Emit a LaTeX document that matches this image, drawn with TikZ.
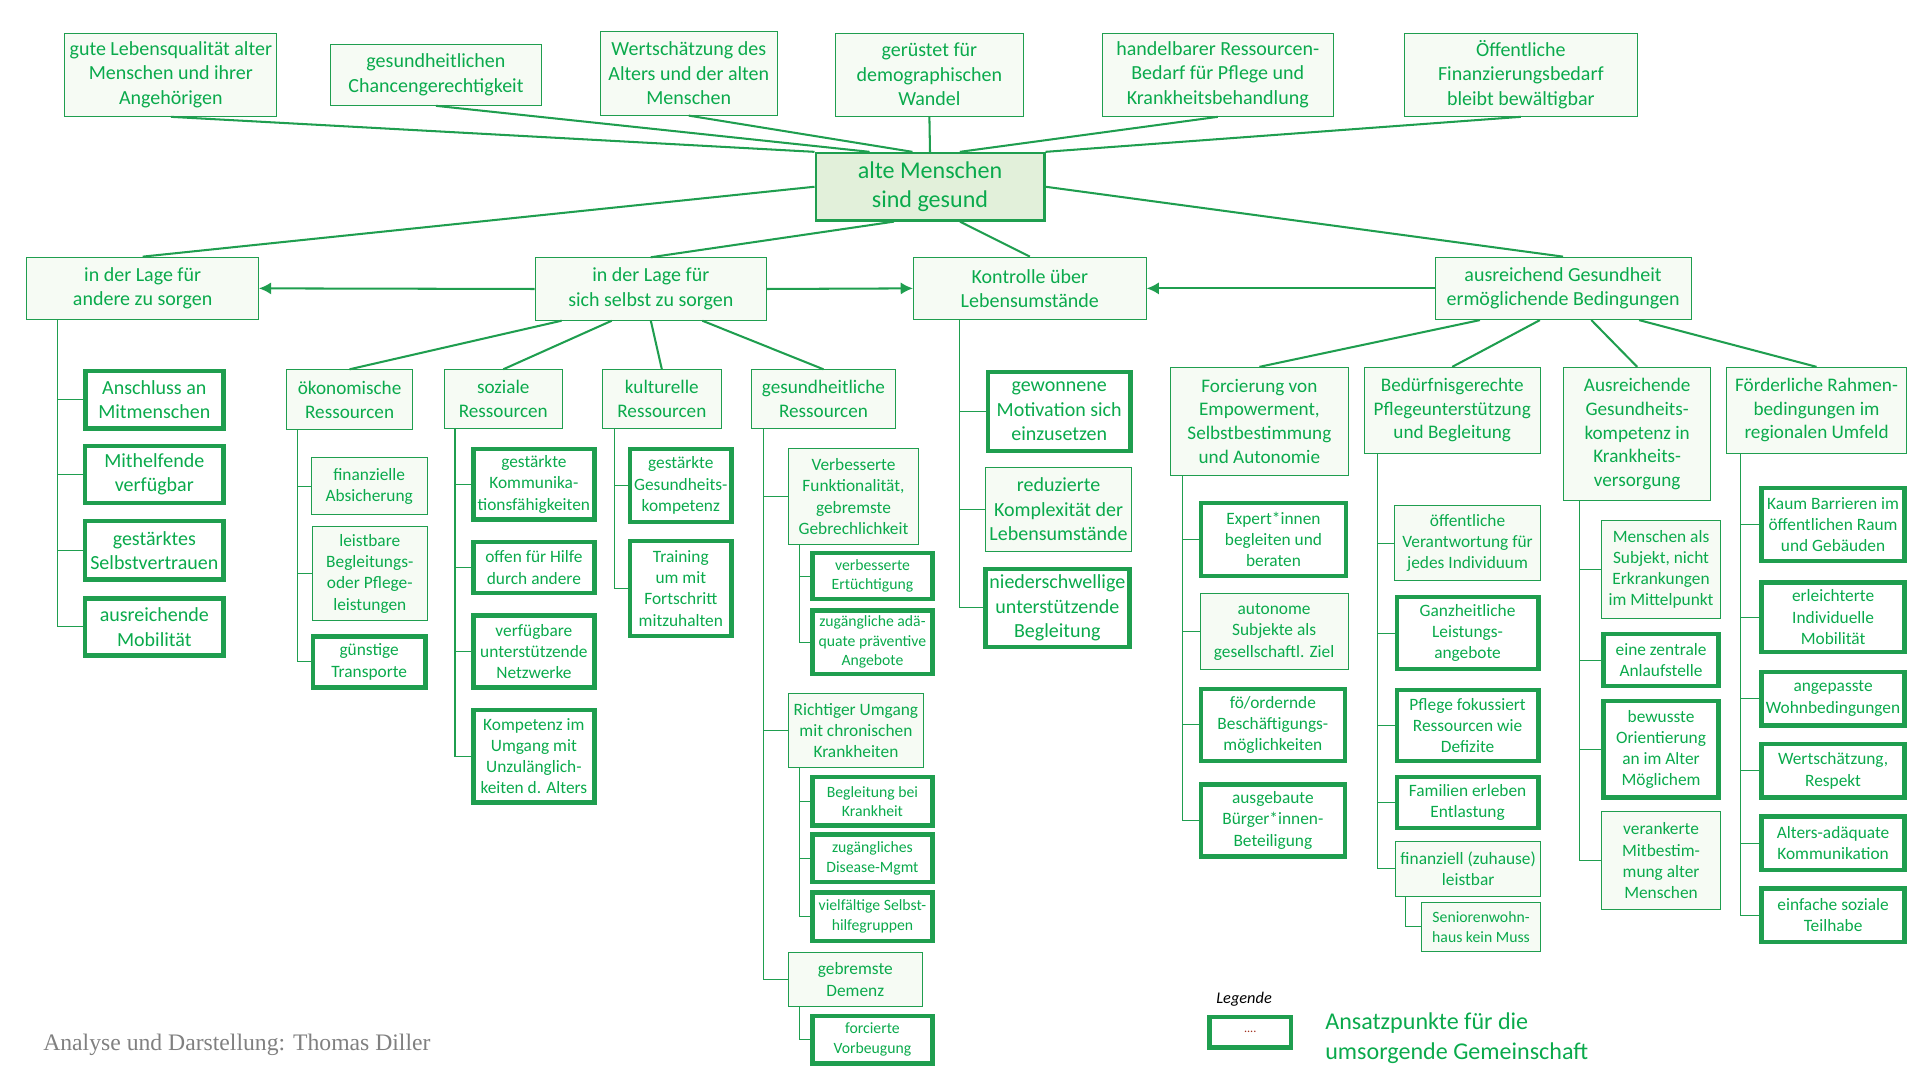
\documentclass[tikz,border=0pt]{standalone}
\usepackage{fontspec}
\setmainfont{Carlito}
\newfontfamily\footfont{Liberation Serif}
\usepackage{tikz}
\usetikzlibrary{arrows.meta,positioning}

\definecolor{boxgreen}{HTML}{1F9E4F}
\definecolor{txtgreen}{HTML}{0AAA4C}
\definecolor{palegreen}{HTML}{F6FBF4}
\definecolor{rootgreen}{HTML}{E2F0DA}
\definecolor{dotred}{HTML}{A0301E}

\tikzset{
  box/.style={draw=boxgreen, fill=palegreen, text=txtgreen, align=center, inner sep=0.5pt, line width=0.5pt},
  key/.style={box, fill=white, line width=2.2pt},
  link/.style={draw=boxgreen, line width=1pt},
  twig/.style={draw=boxgreen, line width=0.5pt},
  arr/.style={link, -{Latex[length=6pt,width=6pt]}},
  rootf/.style={font=\fontsize{11.8}{14.4}\selectfont},
  lg/.style={font=\fontsize{9.8}{12}\selectfont},
  md/.style={font=\fontsize{9.4}{11.6}\selectfont},
  sm/.style={font=\fontsize{8.5}{10.4}\selectfont},
  xs/.style={font=\fontsize{7.7}{9.5}\selectfont}
}

\begin{document}
\begin{tikzpicture}[x=0.6pt, y=-0.6pt]
    \useasboundingbox (0,0) rectangle (1568,882);

    % Ziele
    \node[box, lg, minimum width=103.8pt, minimum height=40.8pt] (t1) at (139.5,61) {gute Lebensqualität alter\\Menschen und ihrer\\Angehörigen};
    \node[box, lg, minimum width=103.2pt, minimum height=30pt] (t2) at (356,61) {gesundheitlichen\\Chancengerechtigkeit};
    \node[box, lg, minimum width=87pt, minimum height=40.8pt] (t3) at (562.5,60) {Wertschätzung des\\Alters und der alten\\Menschen};
    \node[box, lg, minimum width=92.4pt, minimum height=40.8pt] (t4) at (759,61) {gerüstet für\\demographischen\\Wandel};
    \node[box, lg, minimum width=113.4pt, minimum height=40.8pt] (t5) at (994.5,61) {handelbarer Ressourcen-\\Bedarf für Pflege und\\Krankheitsbehandlung};
    \node[box, lg, minimum width=114pt, minimum height=40.8pt] (t6) at (1242,61) {Öffentliche\\Finanzierungsbedarf\\bleibt bewältigbar};

    % Mitte
    \node[box, rootf, fill=rootgreen, line width=1.2pt, minimum width=112pt, minimum height=33pt] (root) at (759.5,152.5) {alte Menschen\\sind gesund};

    \draw[link] (t1.south) -- (root.north west);
    \draw[link] (t2.south) -- ([xshift=27pt]root.north west);
    \draw[link] (t3.south) -- ([xshift=48pt]root.north west);
    \draw[link] (t4.south) -- (root.north);
    \draw[link] (t5.south) -- ([xshift=-42pt]root.north east);
    \draw[link] (t6.south) -- (root.north east);

    % zweite Ebene
    \node[box, lg, minimum width=113.4pt, minimum height=30.6pt] (l1) at (116.5,235.5) {in der Lage für\\andere zu sorgen};
    \node[box, lg, minimum width=113.4pt, minimum height=30.6pt] (l2) at (531.5,236) {in der Lage für\\sich selbst zu sorgen};
    \node[box, lg, minimum width=114pt, minimum height=30.6pt] (l3) at (841,235.5) {Kontrolle über\\Lebensumstände};
    \node[box, lg, minimum width=125.4pt, minimum height=30.6pt] (l4) at (1276.5,235.5) {ausreichend Gesundheit\\ermöglichende Bedingungen};

    \draw[link] (root.west) -- (l1.north);
    \draw[link] ([xshift=-17.7pt]root.south) -- (l2.north);
    \draw[link] ([xshift=14.7pt]root.south) -- (l3.north);
    \draw[link] (root.east) -- (l4.north);

    \draw[arr] (l2.west) -- (l1.east);
    \draw[arr] (l2.east) -- (l3.west);
    \draw[arr] (l4.west) -- (l3.east);

    % fuer andere sorgen
    \node[key, lg, minimum width=67.6pt, minimum height=28pt] (a1) at (126,326.5) {Anschluss an\\Mitmenschen};
    \node[key, lg, minimum width=68pt, minimum height=28pt] (a2) at (126,387.5) {Mithelfende\\verfügbar};
    \node[key, lg, minimum width=68pt, minimum height=28.6pt] (a3) at (126,449.5) {gestärktes\\Selbstvertrauen};
    \node[key, lg, minimum width=68pt, minimum height=28pt] (a4) at (126,512) {ausreichende\\Mobilität};
    \foreach \c in {a1,a2,a3,a4}
        \draw[twig] (l1.south west) ++(25,0) |- (\c.west);

    % fuer sich selbst sorgen
    \node[box, md, minimum width=61.8pt, minimum height=29.4pt] (b1) at (285.5,326.5) {ökonomische\\Ressourcen};
    \node[box, md, minimum width=57.6pt, minimum height=28.8pt] (b2) at (411,326) {soziale\\Ressourcen};
    \node[box, md, minimum width=58.2pt, minimum height=28.8pt] (b3) at (540.5,326) {kulturelle\\Ressourcen};
    \node[box, md, minimum width=70.2pt, minimum height=28.8pt] (b4) at (672.5,326) {gesundheitliche\\Ressourcen};

    \draw[link] ([xshift=13.2pt]l2.south west) -- (b1.north);
    \draw[link] ([xshift=37.8pt]l2.south west) -- (b2.north);
    \draw[link] (l2.south) -- (b3.north);
    \draw[link] ([xshift=82.2pt]l2.south west) -- (b4.north);

    \node[box, sm, minimum width=57pt, minimum height=27.6pt] (b1a) at (301.5,397) {finanzielle\\Absicherung};
    \node[box, sm, minimum width=56.4pt, minimum height=46.2pt] (b1b) at (302,468.5) {leistbare\\Begleitungs-\\oder Pflege-\\leistungen};
    \node[key, sm, minimum width=55pt, minimum height=25pt] (b1c) at (301.5,540.5) {günstige\\Transporte};
    \foreach \c in {b1a,b1b,b1c}
        \draw[twig] (b1.south west) ++(9,0) |- (\c.west);

    \node[key, sm, minimum width=59.2pt, minimum height=34.6pt] (b2a) at (436,395.5) {gestärkte\\Kommunika-\\tionsfähigkeiten};
    \node[key, sm, minimum width=59.2pt, minimum height=25pt] (b2b) at (436,463.5) {offen für Hilfe\\durch andere};
    \node[key, sm, minimum width=59.2pt, minimum height=35.2pt] (b2c) at (436,532) {verfügbare\\unterstützende\\Netzwerke};
    \node[key, sm, minimum width=59.2pt, minimum height=45.4pt] (b2d) at (436,617.5) {Kompetenz im\\Umgang mit\\Unzulänglich-\\keiten d. Alters};
    \foreach \c in {b2a,b2b,b2c,b2d}
        \draw[twig] (b2.south west) ++(9,0) |- (\c.west);

    \node[key, sm, minimum width=49.6pt, minimum height=35.8pt] (b3a) at (556,396.5) {gestärkte\\Gesundheits-\\kompetenz};
    \node[key, sm, minimum width=49.6pt, minimum height=46.6pt] (b3b) at (556,480.5) {Training\\um mit\\Fortschritt\\mitzuhalten};
    \foreach \c in {b3a,b3b}
        \draw[twig] (b3.south west) ++(10,0) |- (\c.west);

    \node[box, sm, minimum width=63.6pt, minimum height=47.4pt] (c1) at (697,405.5) {Verbesserte\\Funktionalität,\\gebremste\\Gebrechlichkeit};
    \node[box, sm, minimum width=66pt, minimum height=36.6pt] (c2) at (699,596.5) {Richtiger Umgang\\mit chronischen\\Krankheiten};
    \node[box, sm, minimum width=65.4pt, minimum height=26.4pt] (c3) at (698.5,800) {gebremste\\Demenz};
    \foreach \c in {c1,c2,c3}
        \draw[twig] (b4.south west) ++(10,0) |- (\c.west);

    \node[key, xs, minimum width=58.6pt, minimum height=22.6pt] (c1a) at (712.5,470.5) {verbesserte\\Ertüchtigung};
    \node[key, xs, minimum width=58.6pt, minimum height=31pt] (c1b) at (712.5,524.5) {zugängliche adä-\\quate präventive\\Angebote};
    \foreach \c in {c1a,c1b}
        \draw[twig] (c1.south west) ++(9,0) |- (\c.west);

    \node[key, xs, minimum width=58.6pt, minimum height=23.8pt] (c2a) at (712.5,654.5) {Begleitung bei\\Krankheit};
    \node[key, xs, minimum width=58.6pt, minimum height=23.2pt] (c2b) at (712.5,701) {zugängliches\\Disease-Mgmt};
    \node[key, xs, minimum width=58.6pt, minimum height=23.8pt] (c2c) at (712.5,748.5) {vielfältige Selbst-\\hilfegruppen};
    \foreach \c in {c2a,c2b,c2c}
        \draw[twig] (c2.south west) ++(9,0) |- (\c.west);

    \node[key, xs, minimum width=58.6pt, minimum height=23.2pt] (c3a) at (712.5,849) {forcierte\\Vorbeugung};
    \draw[twig] (c3.south west) ++(9,0) |- (c3a.west);

    % Kontrolle
    \node[key, lg, minimum width=70pt, minimum height=38.8pt] (d1) at (865,336) {gewonnene\\Motivation sich\\einzusetzen};
    \node[box, lg, minimum width=71.4pt, minimum height=40.8pt] (d2) at (864.5,416) {reduzierte\\Komplexität der\\Lebensumstände};
    \node[key, lg, minimum width=70.6pt, minimum height=38.2pt] (d3) at (863.5,496.5) {niederschwellige\\unterstützende\\Begleitung};
    \foreach \c in {d1,d2,d3}
        \draw[twig] (l3.south west) ++(38,0) |- (\c.west);

    % Bedingungen
    \node[box, md, minimum width=87pt, minimum height=52.8pt] (e1) at (1028.5,344) {Forcierung von\\Empowerment,\\Selbstbestimmung\\und Autonomie};
    \node[box, md, minimum width=86.4pt, minimum height=42pt] (e2) at (1186,335) {Bedürfnisgerechte\\Pflegeunterstützung\\und Begleitung};
    \node[box, md, minimum width=72pt, minimum height=65.4pt] (e3) at (1337,354.5) {Ausreichende\\Gesundheits-\\kompetenz in\\Krankheits-\\versorgung};
    \node[box, md, minimum width=88.2pt, minimum height=42pt] (e4) at (1483.5,335) {Förderliche Rahmen-\\bedingungen im\\regionalen Umfeld};

    \draw[link] ([xshift=22.2pt]l4.south west) -- (e1.north);
    \draw[link] ([xshift=51.6pt]l4.south west) -- (e2.north);
    \draw[link] ([xshift=76.8pt]l4.south west) -- (e3.north);
    \draw[link] ([xshift=100.2pt]l4.south west) -- (e4.north);

    \node[key, sm, minimum width=71.2pt, minimum height=35.8pt] (e1a) at (1040,440.5) {Expert*innen\\begleiten und\\beraten};
    \node[box, sm, minimum width=72.6pt, minimum height=37.2pt] (e1b) at (1040.5,516) {autonome\\Subjekte als\\gesellschaftl. Ziel};
    \node[key, sm, minimum width=70.6pt, minimum height=35.2pt] (e1c) at (1039.5,592) {fö/ordernde\\Beschäftigungs-\\möglichkeiten};
    \node[key, sm, minimum width=70.6pt, minimum height=35.2pt] (e1d) at (1039.5,670) {ausgebaute\\Bürger*innen-\\Beteiligung};
    \foreach \c in {e1a,e1b,e1c,e1d}
        \draw[twig] (e1.south west) ++(10,0) |- (\c.west);

    \node[box, sm, minimum width=71.4pt, minimum height=36.6pt] (e2a) at (1198.5,443.5) {öffentliche\\Verantwortung für\\jedes Individuum};
    \node[key, sm, minimum width=69.4pt, minimum height=35.2pt] (e2b) at (1198.5,517) {Ganzheitliche\\Leistungs-\\angebote};
    \node[key, sm, minimum width=69.4pt, minimum height=34.6pt] (e2c) at (1198.5,592.5) {Pflege fokussiert\\Ressourcen wie\\Defizite};
    \node[key, sm, minimum width=69.4pt, minimum height=25pt] (e2d) at (1198.5,655.5) {Familien erleben\\Entlastung};
    \node[box, sm, minimum width=70.8pt, minimum height=27pt] (e2e) at (1199,709.5) {finanziell (zuhause)\\leistbar};
    \foreach \c in {e2a,e2b,e2c,e2d,e2e}
        \draw[twig] (e2.south west) ++(11,0) |- (\c.west);
    \node[box, xs, minimum width=58.2pt, minimum height=24pt] (e2f) at (1209.5,757) {Seniorenwohn-\\haus kein Muss};
    \draw[twig] (e2e.south west) ++(8,0) |- (e2f.west);

    \node[box, sm, minimum width=58.2pt, minimum height=48pt] (e3a) at (1356.5,465) {Menschen als\\Subjekt, nicht\\Erkrankungen\\im Mittelpunkt};
    \node[key, sm, minimum width=56.2pt, minimum height=25.6pt] (e3b) at (1356.5,539) {eine zentrale\\Anlaufstelle};
    \node[key, sm, minimum width=56.2pt, minimum height=47.2pt] (e3c) at (1356.5,612) {bewusste\\Orientierung\\an im Alter\\Möglichem};
    \node[box, sm, minimum width=58.2pt, minimum height=48pt] (e3d) at (1356.5,703) {verankerte\\Mitbestim-\\mung alter\\Menschen};
    \foreach \c in {e3a,e3b,e3c,e3d}
        \draw[twig] (e3.south west) ++(13,0) |- (\c.west);

    \node[key, sm, minimum width=70pt, minimum height=35.8pt] (e4a) at (1497,428.5) {Kaum Barrieren im\\öffentlichen Raum\\und Gebäuden};
    \node[key, sm, minimum width=70pt, minimum height=34pt] (e4b) at (1497,504) {erleichterte\\Individuelle\\Mobilität};
    \node[key, sm, minimum width=70pt, minimum height=26.2pt] (e4c) at (1497,570.5) {angepasste\\Wohnbedingungen};
    \node[key, sm, minimum width=70pt, minimum height=26.2pt] (e4d) at (1497,629.5) {Wertschätzung,\\Respekt};
    \node[key, sm, minimum width=70pt, minimum height=26.2pt] (e4e) at (1497,688.5) {Alters-adäquate\\Kommunikation};
    \node[key, sm, minimum width=70pt, minimum height=26.2pt] (e4f) at (1497,747.5) {einfache soziale\\Teilhabe};
    \foreach \c in {e4a,e4b,e4c,e4d,e4e,e4f}
        \draw[twig] (e4.south west) ++(12,0) |- (\c.west);

    % Legende
    \node[font=\fontsize{8}{9.6}\selectfont\itshape] (leg) at (1016,816) {Legende};
    \node[key, minimum width=40pt, minimum height=15pt, text=dotred, font=\fontsize{6}{7}\selectfont] (legbox) at (1021,843) {....};
    \node[anchor=west, align=left, text=txtgreen, inner sep=0pt, font=\fontsize{11.8}{14.4}\selectfont] (legtext) at (1082,848) {Ansatzpunkte für die\\umsorgende Gemeinschaft};

    % Quelle
    \node[anchor=west, inner sep=0pt, text=black!50, font=\footfont\fontsize{11.6}{13.6}\selectfont] (src) at (35,853) {Analyse und Darstellung: Thomas Diller};
\end{tikzpicture}
\end{document}
